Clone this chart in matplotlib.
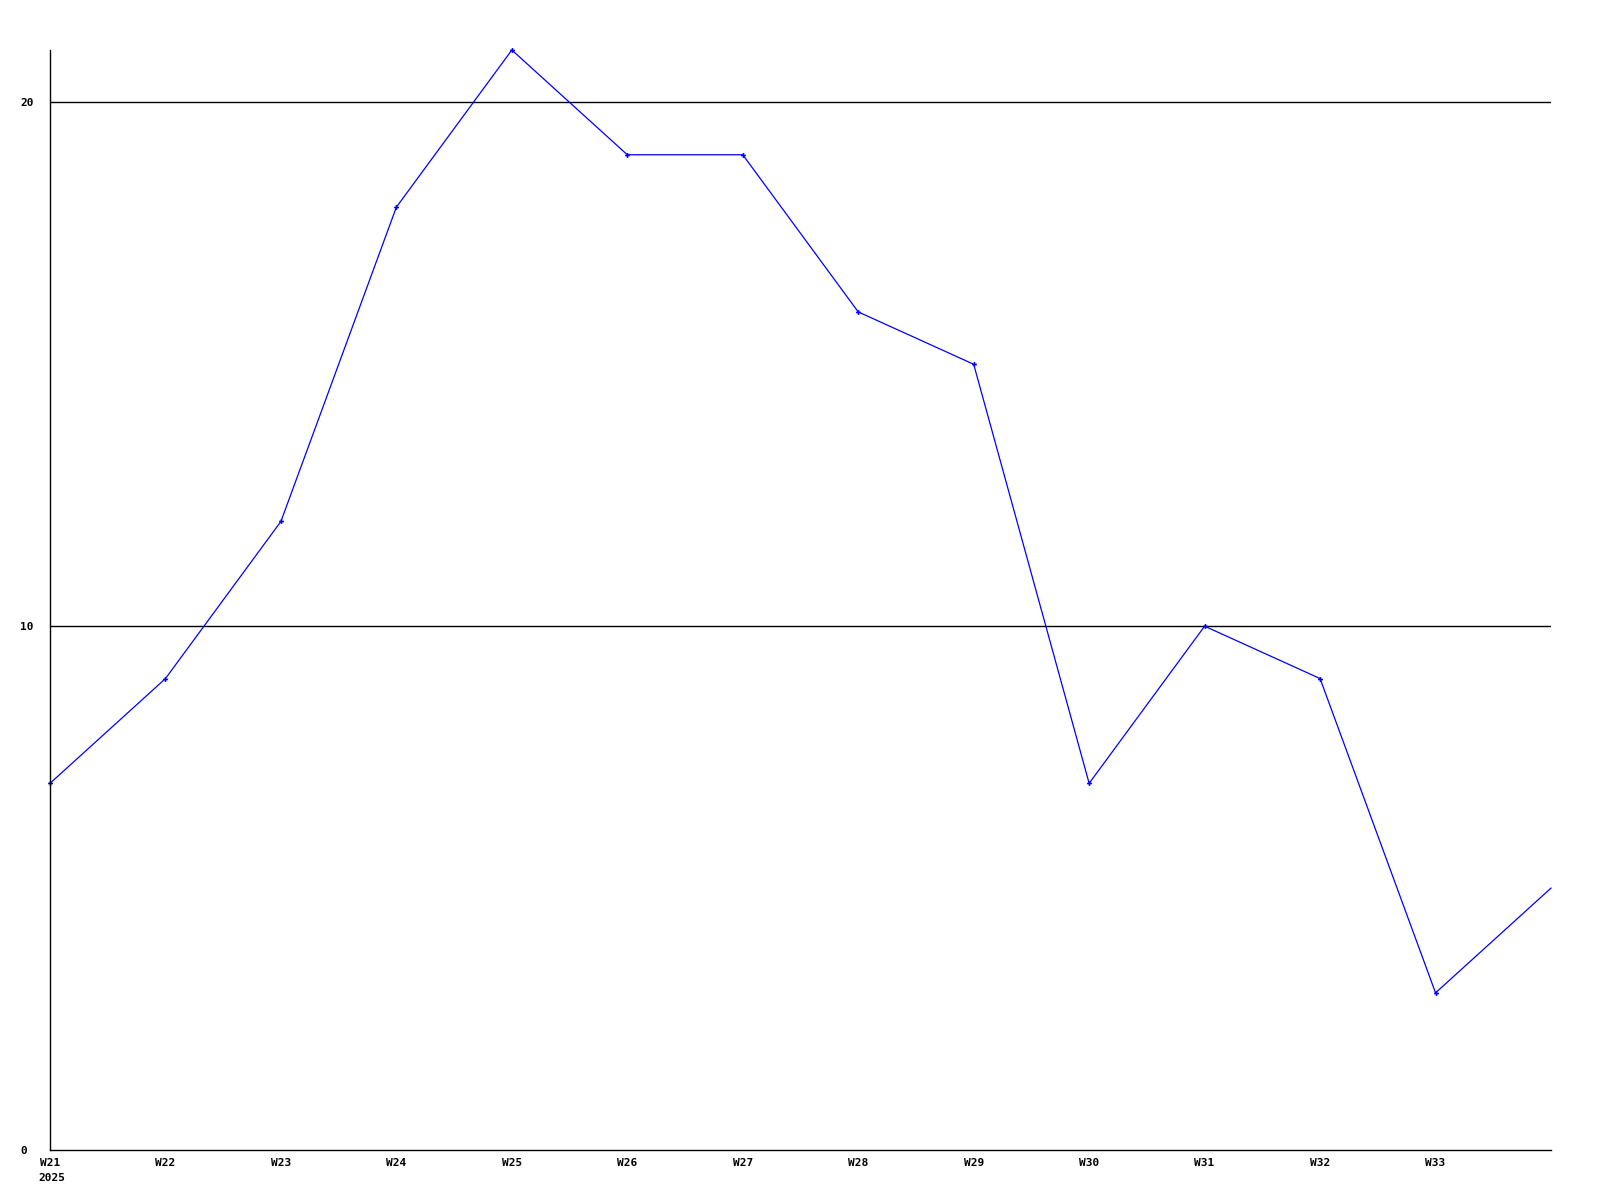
import numpy as np
import matplotlib.pyplot as plt

plt.rcParams['font.family'] = ['DejaVu Sans Mono']

weeks = ['W21', 'W22', 'W23', 'W24', 'W25', 'W26', 'W27', 'W28', 'W29', 'W30', 'W31', 'W32', 'W33', 'W34']
values = [7, 9, 12, 18, 21, 19, 19, 16, 15, 7, 10, 9, 3, 5]
tick_labels = weeks[:-1]
y_ticks = [0, 10, 20]

fig = plt.figure(figsize=(16, 12), dpi=100)
ax = fig.add_axes([50 / 1600, 50 / 1200, 1501 / 1600, 1100 / 1200])

x = np.arange(len(values))
ax.plot(x, values, color='#0000ff', linewidth=0.9, marker='P', markersize=3.5,
        markeredgewidth=0, markevery=list(range(len(values) - 1)), clip_on=False)

for y in y_ticks[1:]:
    ax.axhline(y, color='black', linewidth=1, zorder=0)

ax.set_xlim(0, len(values) - 1)
ax.set_ylim(0, 21)
ax.set_xticks(x[:-1])
ax.set_xticklabels(tick_labels, fontsize=8, fontweight='bold')
ax.set_yticks(y_ticks)
ax.set_yticklabels([str(v) for v in y_ticks], fontsize=8, fontweight='bold', ha='left')
ax.tick_params(length=0, pad=6)
ax.tick_params(axis='y', pad=21.5)

for side in ['top', 'right']:
    ax.spines[side].set_visible(False)
for side in ['left', 'bottom']:
    ax.spines[side].set_linewidth(1)

ax.text(-0.1, -0.021, '2025', transform=ax.get_xaxis_transform(), fontsize=8,
        fontweight='bold', ha='left', va='top')

fig.savefig('out.png', dpi=100)
